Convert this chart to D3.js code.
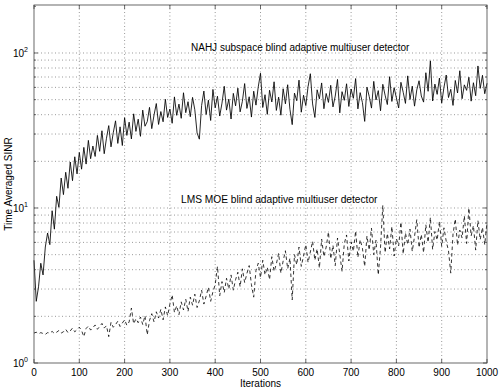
<!DOCTYPE html>
<html lang="en">
<head>
<meta charset="UTF-8">
<script src="https://d3js.org/d3.v7.min.js"></script>
<style>
  body { margin: 0; background: #fff; }
  text { font-family: "Liberation Sans", Arial, sans-serif; fill: #000; }
</style>
</head>
<body>
<div id="chart"></div>
<script>
// iteration step between stored samples
const step = 5;

// NAHJ subspace detector, time averaged SINR every 5 iterations (0..1000)
const nahj = [
  4.6, 2.5, 3.1, 4.4, 3.7, 5.6, 6.9, 5.8, 9.6, 7.3, 11.9,
  10.1, 15.6, 12.2, 17.0, 13.4, 19.8, 15.0, 21.4, 16.6, 22.8,
  17.8, 24.6, 19.2, 27.3, 20.8, 25.1, 21.5, 29.4, 23.2, 31.5,
  22.4, 28.2, 34.0, 24.8, 30.6, 36.5, 26.1, 33.4, 25.3, 38.2,
  29.4, 35.8, 27.9, 40.5, 31.2, 37.4, 29.0, 42.8, 33.7, 36.1,
  44.6, 32.5, 39.8, 47.2, 34.6, 41.9, 36.0, 50.3, 38.4, 43.5,
  35.2, 52.1, 39.6, 46.8, 37.9, 55.4, 41.2, 48.5, 38.8, 51.7,
  43.0, 30.5, 27.8, 45.9, 56.8, 40.1, 49.6, 36.7, 58.2, 44.3,
  52.6, 39.2, 47.5, 61.0, 42.8, 50.4, 37.5, 54.9, 45.6, 59.3,
  41.7, 48.8, 63.5, 43.9, 52.2, 38.6, 56.7, 46.1, 60.4, 74.0,
  44.5, 53.8, 40.2, 57.5, 48.3, 65.2, 42.6, 51.9, 39.7, 58.8,
  47.0, 62.4, 43.3, 34.5, 55.1, 49.2, 66.8, 41.5, 53.4, 45.8,
  60.7, 73.5, 46.9, 38.4, 57.9, 50.6, 64.1, 43.7, 54.8, 48.0,
  61.9, 44.9, 52.7, 67.5, 41.1, 56.3, 49.5, 63.3, 45.2, 58.6,
  51.0, 68.4, 43.6, 55.5, 47.8, 36.2, 60.2, 52.4, 44.1, 65.6,
  49.8, 57.2, 42.4, 62.8, 53.5, 46.5, 70.3, 48.7, 59.7, 51.3,
  44.2, 64.7, 55.8, 47.3, 71.2, 50.1, 61.1, 45.4, 57.8, 66.2,
  52.8, 48.2, 74.6, 56.6, 89.0, 49.0, 63.0, 54.1, 68.9, 47.6,
  60.0, 72.1, 51.6, 58.3, 45.9, 66.5, 55.2, 76.8, 50.7, 62.3,
  57.4, 69.7, 48.9, 64.3, 53.0, 82.5, 59.1, 71.8, 54.6, 63.8
];

// LMS MOE detector, same sampling
const lms = [
  1.56, 1.58, 1.54, 1.57, 1.55, 1.53, 1.57, 1.56, 1.60, 1.55, 1.58,
  1.62, 1.56, 1.59, 1.65, 1.57, 1.61, 1.68, 1.59, 1.64, 1.70,
  1.62, 1.48, 1.67, 1.73, 1.63, 1.69, 1.76, 1.65, 1.72, 1.80,
  1.68, 1.74, 1.48, 1.83, 1.70, 1.77, 1.86, 1.72, 1.81, 1.90,
  1.75, 1.84, 2.26, 1.79, 1.93, 1.82, 1.98, 1.77, 2.02, 1.52,
  1.88, 2.08, 1.84, 2.14, 1.95, 2.22, 1.90, 2.30, 2.02, 2.40,
  2.75, 2.12, 2.34, 2.05, 2.48, 2.20, 2.58, 2.15, 2.66, 2.36,
  2.78, 2.28, 2.52, 2.95, 2.40, 2.70, 3.08, 2.50, 2.88, 3.20,
  4.20, 2.72, 3.35, 2.85, 3.52, 3.00, 3.70, 2.95, 3.45, 3.85,
  3.10, 4.05, 3.30, 3.78, 4.25, 3.20, 2.66, 3.95, 4.40, 3.55,
  4.60, 3.70, 4.15, 3.45, 4.85, 3.90, 4.35, 5.10, 3.80, 4.55,
  5.30, 4.05, 4.75, 2.55, 5.00, 4.30, 5.60, 4.20, 4.90, 5.80,
  4.45, 5.20, 6.10, 4.60, 5.45, 4.10, 6.30, 4.85, 5.60, 7.00,
  4.70, 5.75, 4.25, 6.40, 5.05, 3.90, 5.90, 6.70, 4.55, 6.05,
  5.25, 7.10, 4.80, 6.25, 5.50, 4.20, 6.60, 5.35, 7.40, 5.00,
  6.20, 3.70, 5.60, 10.4, 5.15, 6.85, 5.45, 7.60, 4.90, 6.35,
  5.70, 8.10, 5.05, 6.90, 5.80, 7.30, 5.25, 6.55, 8.40, 5.55,
  6.75, 5.15, 7.80, 6.00, 8.70, 5.40, 7.05, 6.20, 8.20, 5.65,
  7.45, 6.10, 5.30, 3.80, 6.80, 8.50, 5.75, 7.20, 6.40, 8.90,
  5.90, 10.0, 6.60, 7.70, 5.35, 8.30, 6.25, 7.50, 5.80, 8.10
];

const xTicks = [0, 100, 200, 300, 400, 500, 600, 700, 800, 900, 1000];
const yMajor = [1, 10, 100];
const yMinor = [2, 3, 4, 5, 6, 7, 8, 9, 20, 30, 40, 50, 60, 70, 80, 90, 200];
const labelNahj = "NAHJ subspace blind adaptive multiuser detector";
const labelLms = "LMS MOE blind adaptive multiuser detector";

const W = 500, H = 389;
const margin = {top: 5, right: 13, bottom: 26, left: 34};
const width = W - margin.left - margin.right,
      height = H - margin.top - margin.bottom;

const svg = d3.select("#chart").append("svg")
    .attr("width", W).attr("height", H);
const g = svg.append("g")
    .attr("transform", `translate(${margin.left},${margin.top})`);

const x = d3.scaleLinear().domain([0, 1000]).range([0, width]);
const y = d3.scaleLog().domain([1, 204]).range([height, 0]);

// dotted grid
const grid = g.append("g").attr("stroke", "#555").attr("stroke-width", 0.6)
    .attr("stroke-dasharray", "1,2.5");
grid.selectAll(".gx").data(xTicks.slice(1, -1)).join("line")
    .attr("x1", d => x(d)).attr("x2", d => x(d))
    .attr("y1", 0).attr("y2", height);
grid.selectAll(".gy").data(yMajor.concat(yMinor).filter(d => d > 1 && d < 200)).join("line")
    .attr("x1", 0).attr("x2", width)
    .attr("y1", d => y(d)).attr("y2", d => y(d));

// lines
const line = d3.line()
    .x((d, i) => x(i * step))
    .y(d => y(d));

g.append("path").datum(lms)
    .attr("d", line)
    .attr("fill", "none").attr("stroke", "#000")
    .attr("stroke-width", 0.8)
    .attr("stroke-dasharray", "3.5,3");

g.append("path").datum(nahj)
    .attr("d", line)
    .attr("fill", "none").attr("stroke", "#000")
    .attr("stroke-width", 0.85);

// frame and inward ticks (matlab style)
const axisCol = "#444";
g.append("rect").attr("width", width).attr("height", height)
    .attr("fill", "none").attr("stroke", axisCol).attr("stroke-width", 0.8);

const tk = g.append("g").attr("stroke", axisCol).attr("stroke-width", 0.8);
xTicks.forEach(d => {
  tk.append("line").attr("x1", x(d)).attr("x2", x(d)).attr("y1", height).attr("y2", height - 4);
  tk.append("line").attr("x1", x(d)).attr("x2", x(d)).attr("y1", 0).attr("y2", 4);
});
yMajor.forEach(d => {
  tk.append("line").attr("x1", 0).attr("x2", 4).attr("y1", y(d)).attr("y2", y(d));
  tk.append("line").attr("x1", width).attr("x2", width - 4).attr("y1", y(d)).attr("y2", y(d));
});
yMinor.forEach(d => {
  tk.append("line").attr("x1", 0).attr("x2", 2).attr("y1", y(d)).attr("y2", y(d));
  tk.append("line").attr("x1", width).attr("x2", width - 2).attr("y1", y(d)).attr("y2", y(d));
});

// tick labels
g.selectAll(".xl").data(xTicks).join("text")
    .attr("x", d => x(d)).attr("y", height + 13)
    .attr("text-anchor", "middle").attr("font-size", 10)
    .text(d => d);

yMajor.forEach((d, i) => {
  const t = g.append("text").attr("x", -6).attr("y", y(d) + 4)
      .attr("text-anchor", "end").attr("font-size", 10);
  t.append("tspan").text("10");
  t.append("tspan").attr("dy", -5).attr("font-size", 7).text(i);
});

// axis titles
svg.append("text")
    .attr("x", margin.left + width / 2).attr("y", H - 2)
    .attr("text-anchor", "middle").attr("font-size", 10)
    .text("Iterations");
svg.append("text")
    .attr("transform", `translate(12,${margin.top + height / 2}) rotate(-90)`)
    .attr("text-anchor", "middle").attr("font-size", 10)
    .text("Time Averaged SINR");

// annotations
svg.append("text").attr("x", 191).attr("y", 51)
    .attr("font-size", 10).text(labelNahj);
svg.append("text").attr("x", 181).attr("y", 203)
    .attr("font-size", 10.2).text(labelLms);
</script>
</body>
</html>
